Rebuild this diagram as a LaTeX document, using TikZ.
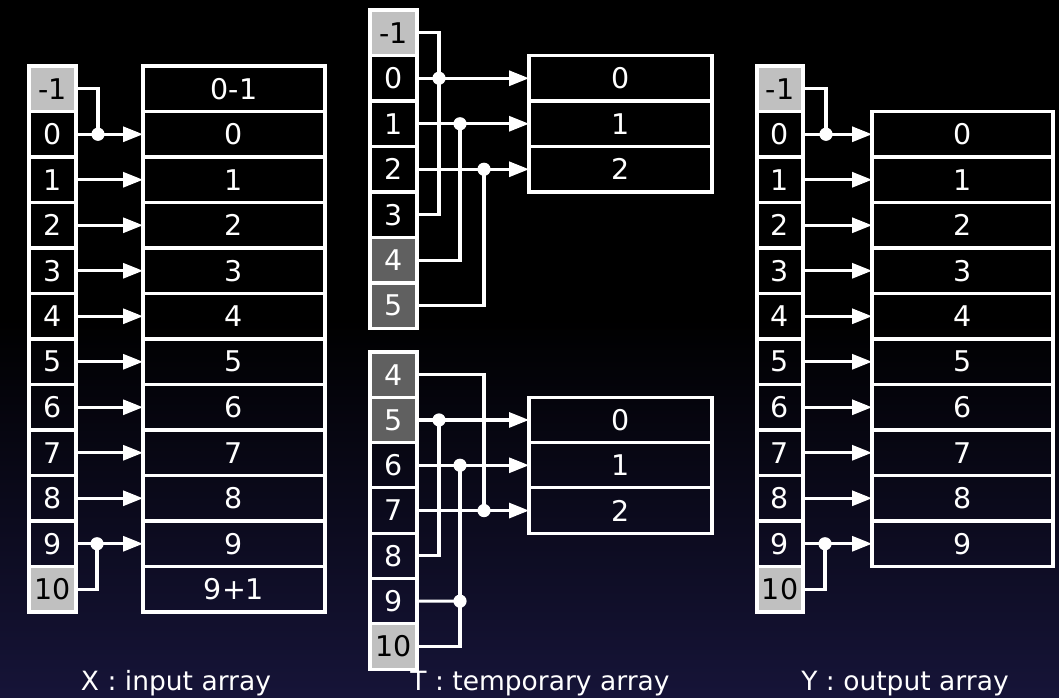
\documentclass[tikz,border=0pt]{standalone}
\usepackage{fontspec}
\setmainfont{DejaVu Sans}
\usetikzlibrary{arrows.meta}
\definecolor{bgbottom}{RGB}{22,20,56}
\definecolor{lightcell}{RGB}{192,192,192}
\definecolor{darkcell}{RGB}{96,96,96}
\begin{document}
\begin{tikzpicture}[x=1pt,y=-1pt,
  wire/.style={draw=white, line width=3.1pt},
  arrowwire/.style={wire, -{Triangle[length=20pt,width=15pt]}},
  cell/.style={draw=white, line width=3.1pt, inner sep=0pt, outer sep=0pt,
    minimum height=45.5pt, text=white, font=\fontsize{28.5}{30}\selectfont},
  idx/.style={cell, minimum width=47pt},
  val/.style={cell, minimum width=182pt},
  plain/.style={},
  lite/.style={fill=lightcell, text=black},
  dark/.style={fill=darkcell},
  dot/.style={fill=white},
  caption/.style={text=white, font=\fontsize{26.5}{30}\selectfont, anchor=base}]

% background
\useasboundingbox (0,0) rectangle (1059,697);
\fill[black] (0,0) rectangle (1059,320);
\shade[top color=black, bottom color=bgbottom] (0,319) rectangle (1059,697);

% ---------- X : input array ----------
\foreach \t/\s [count=\k from 0] in {-1/lite,0/plain,1/plain,2/plain,3/plain,4/plain,5/plain,6/plain,7/plain,8/plain,9/plain,10/lite}
  \node[idx,\s] (x\k) at (52.5,{66+(\k+0.5)*45.5}) {\t};
\foreach \t [count=\k from 0] in {0-1,0,1,2,3,4,5,6,7,8,9,9+1}
  \node[val] (xv\k) at (234,{66+(\k+0.5)*45.5}) {\t};
\coordinate (xj0) at (98,134.25);
\coordinate (xj9) at (97,543.75);
\draw[wire] (x0.east) -| (xj0);
\draw[wire] (x11.east) -| (xj9);
\foreach \k in {1,...,10}
  \draw[arrowwire] (x\k.east) -- (xv\k.west);
\fill[dot] (xj0) circle (6.6pt);
\fill[dot] (xj9) circle (6.6pt);

% ---------- T : temporary array, first block ----------
\foreach \t/\s [count=\k from 0] in {-1/lite,0/plain,1/plain,2/plain,3/plain,4/dark,5/dark}
  \node[idx,\s] (ta\k) at (393.5,{10+(\k+0.5)*45.5}) {\t};
\foreach \t [count=\k from 1] in {0,1,2}
  \node[val, minimum width=183pt] (tav\k) at (620.5,{10+(\k+0.5)*45.5}) {\t};
\coordinate (tj0) at (439,78.25);
\coordinate (tj1) at (460,123.75);
\coordinate (tj2) at (484,169.25);
\draw[wire] (ta0.east) -| (tj0) |- (ta4.east);
\draw[wire] (ta5.east) -| (tj1);
\draw[wire] (ta6.east) -| (tj2);
\foreach \k in {1,2,3}
  \draw[arrowwire] (ta\k.east) -- (tav\k.west);
\foreach \j in {tj0,tj1,tj2}
  \fill[dot] (\j) circle (6.6pt);

% ---------- T : temporary array, second block ----------
\foreach \t/\s [count=\k from 0] in {4/dark,5/dark,6/plain,7/plain,8/plain,9/plain,10/lite}
  \node[idx,\s, minimum height=45.3pt] (tb\k) at (393.5,{352+(\k+0.5)*45.3}) {\t};
\foreach \t [count=\k from 1] in {0,1,2}
  \node[val, minimum width=183pt, minimum height=45.3pt] (tbv\k) at (620.5,{352+(\k+0.5)*45.3}) {\t};
\coordinate (uj0) at (439,419.95);
\coordinate (uj1) at (460,465.25);
\coordinate (uj2) at (484,510.55);
\coordinate (uk1) at (460,601.15);
\draw[wire] (tb0.east) -| (uj2);
\draw[wire] (tb4.east) -| (uj0);
\draw[wire] (tb6.east) -| (uj1);
\draw[wire] (tb5.east) -- (uk1);
\foreach \k in {1,2,3}
  \draw[arrowwire] (tb\k.east) -- (tbv\k.west);
\foreach \j in {uj0,uj1,uj2,uk1}
  \fill[dot] (\j) circle (6.6pt);

% ---------- Y : output array ----------
\foreach \t/\s [count=\k from 0] in {-1/lite,0/plain,1/plain,2/plain,3/plain,4/plain,5/plain,6/plain,7/plain,8/plain,9/plain,10/lite}
  \node[idx,\s, minimum width=46pt] (y\k) at (780,{66+(\k+0.5)*45.5}) {\t};
\foreach \t [count=\k from 1] in {0,1,2,3,4,5,6,7,8,9}
  \node[val, minimum width=181pt] (yv\k) at (962.5,{66+(\k+0.5)*45.5}) {\t};
\coordinate (yj0) at (826,134.25);
\coordinate (yj9) at (825,543.75);
\draw[wire] (y0.east) -| (yj0);
\draw[wire] (y11.east) -| (yj9);
\foreach \k in {1,...,10}
  \draw[arrowwire] (y\k.east) -- (yv\k.west);
\fill[dot] (yj0) circle (6.6pt);
\fill[dot] (yj9) circle (6.6pt);

% captions
\node[caption] (xcap) at (176,690) {X : input array};
\node[caption] (tcap) at (540,690) {T : temporary array};
\node[caption] (ycap) at (905,690) {Y : output array};
\end{tikzpicture}
\end{document}
